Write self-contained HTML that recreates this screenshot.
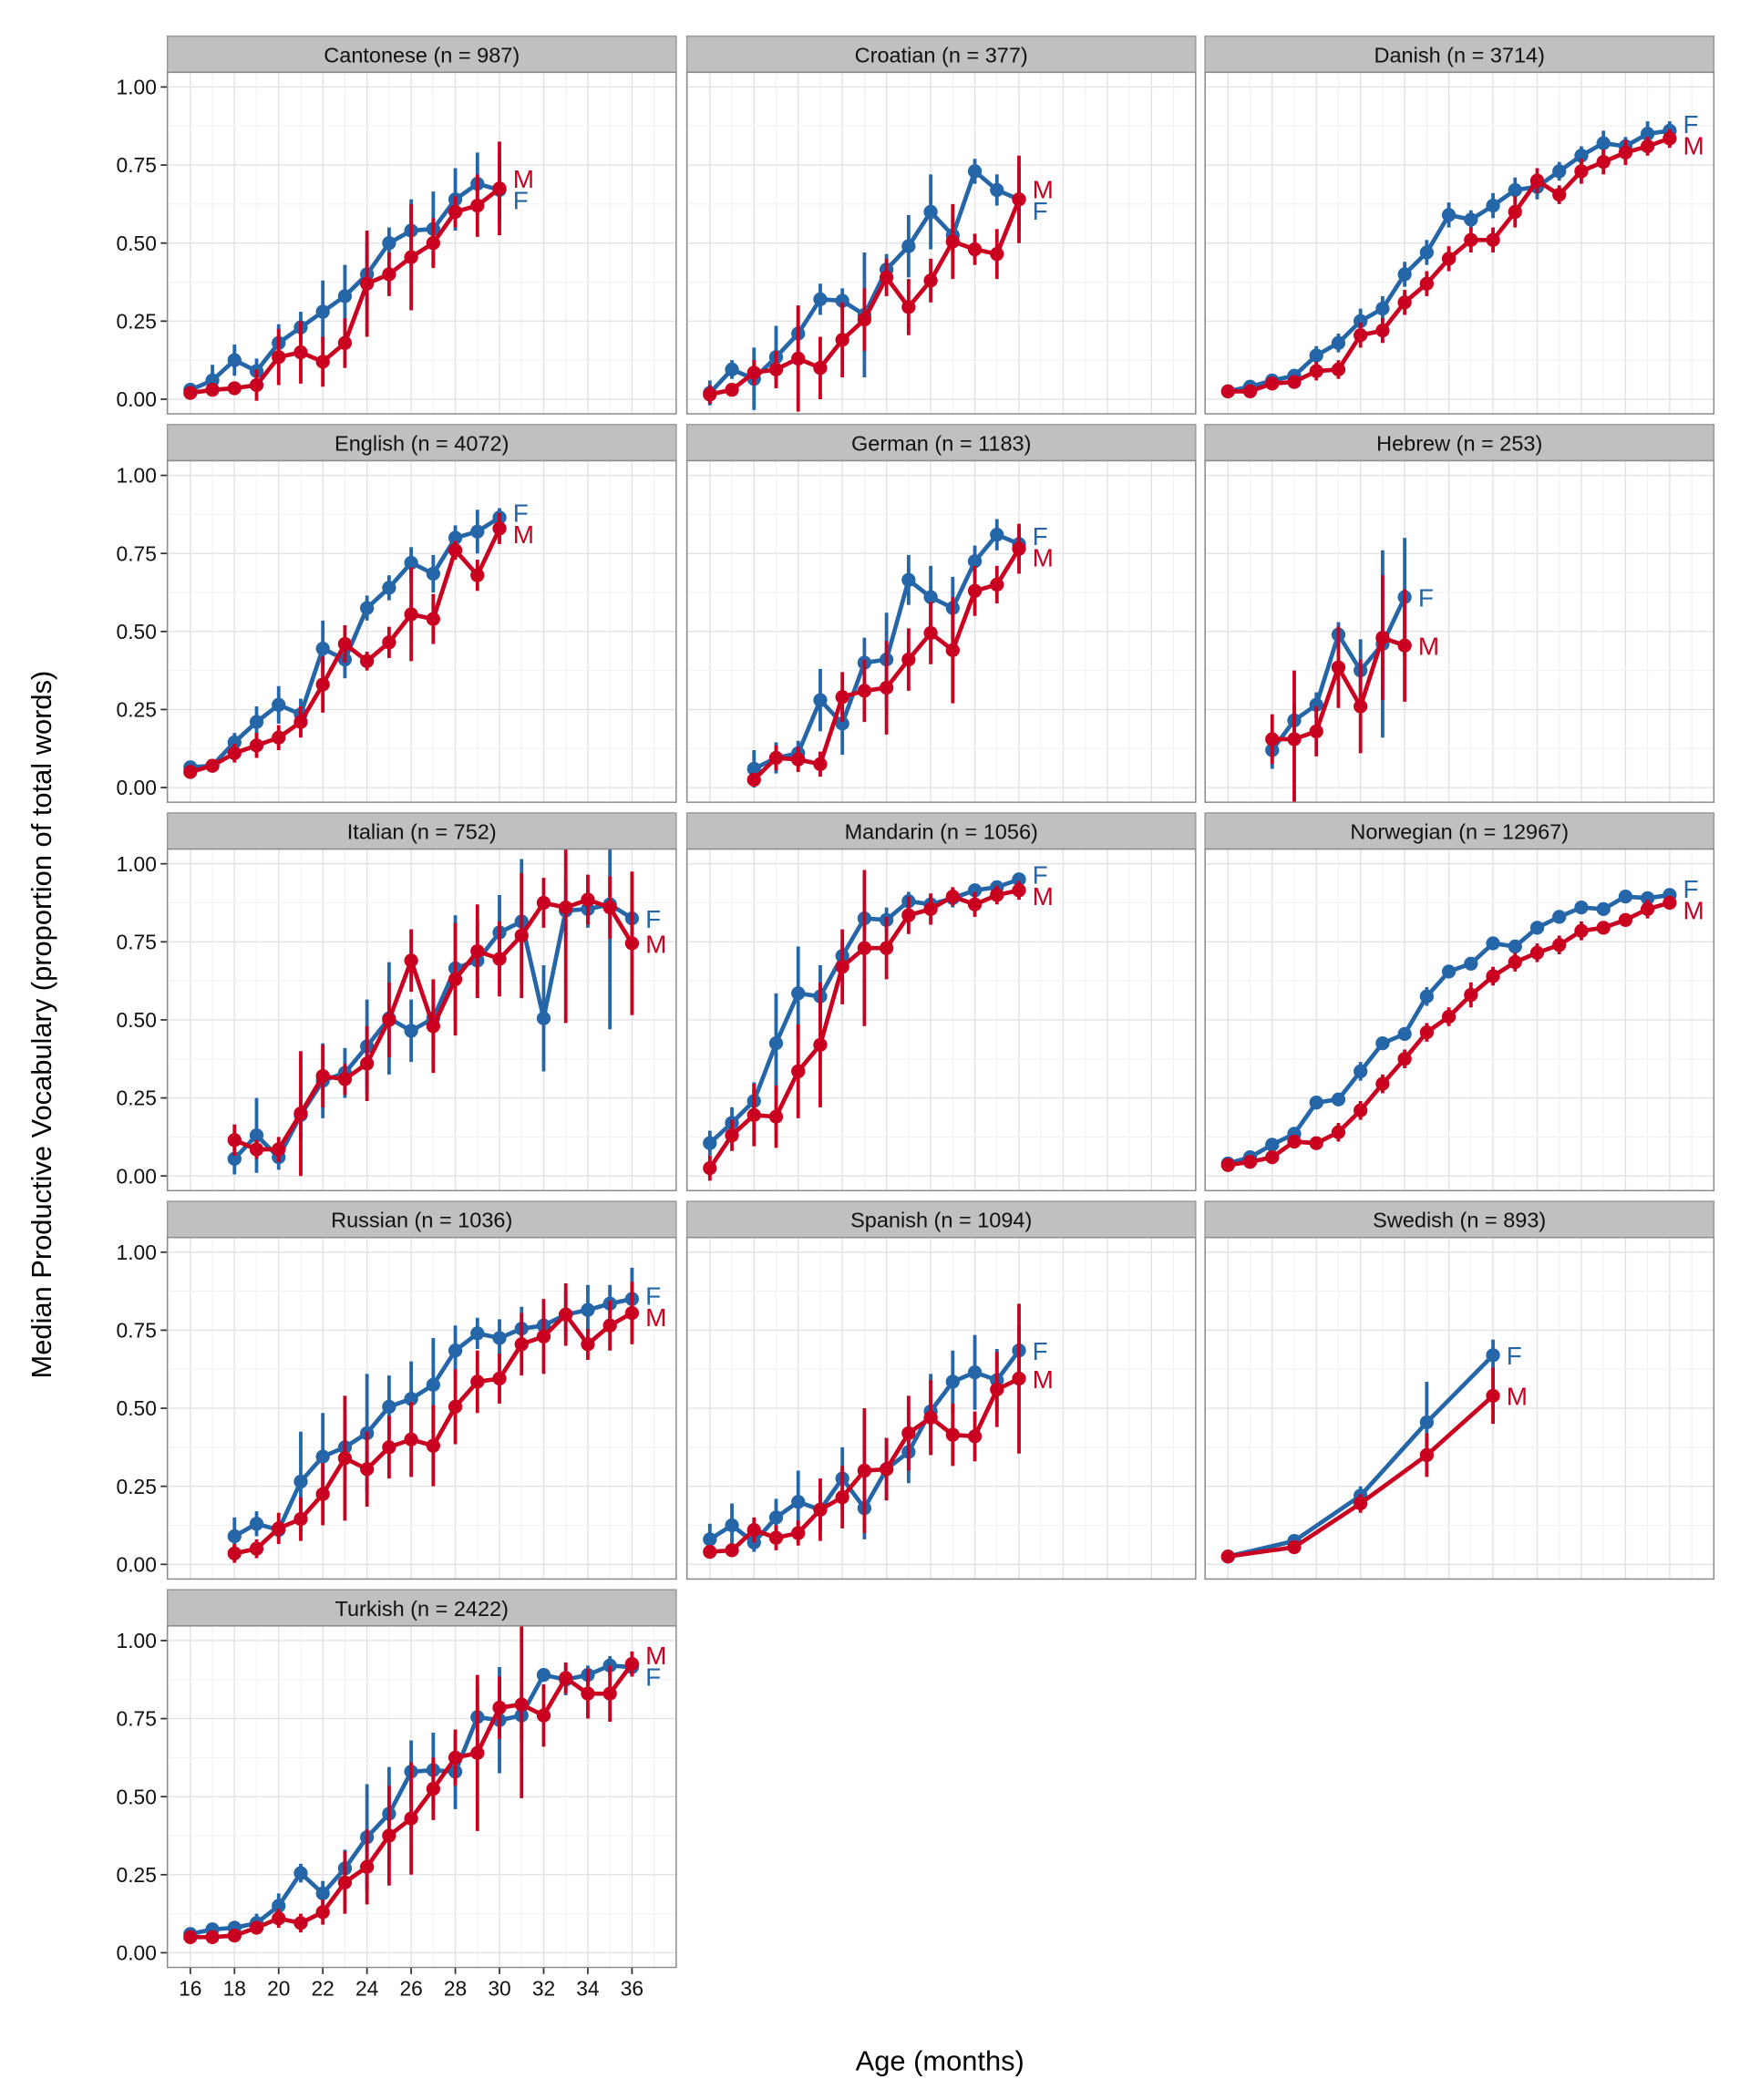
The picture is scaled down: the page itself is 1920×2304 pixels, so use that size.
<!DOCTYPE html>
<html><head><meta charset="utf-8"><style>
html,body{margin:0;padding:0;background:#fff}
svg{display:block}
text{font-family:"Liberation Sans",sans-serif}
</style></head><body>
<svg id="chart" width="1920" height="2304" viewBox="0 0 1307 1568" preserveAspectRatio="none" xmlns="http://www.w3.org/2000/svg">
<text x="38" y="765" font-size="21" text-anchor="middle" fill="#000" transform="rotate(-90 38 765)">Median Productive Vocabulary (proportion of total words)</text>
<text x="702" y="1546" font-size="21" text-anchor="middle" fill="#000">Age (months)</text>
</svg>
<script>
const panelNames = ["Cantonese (n = 987)","Croatian (n = 377)","Danish (n = 3714)","English (n = 4072)","German (n = 1183)","Hebrew (n = 253)","Italian (n = 752)","Mandarin (n = 1056)","Norwegian (n = 12967)","Russian (n = 1036)","Spanish (n = 1094)","Swedish (n = 893)","Turkish (n = 2422)"];
const ages = [
[16,17,18,19,20,21,22,23,24,25,26,27,28,29,30],
[16,17,18,19,20,21,22,23,24,25,26,27,28,29,30],
[16,17,18,19,20,21,22,23,24,25,26,27,28,29,30,31,32,33,34,35,36],
[16,17,18,19,20,21,22,23,24,25,26,27,28,29,30],
[18,19,20,21,22,23,24,25,26,27,28,29,30],
[18,19,20,21,22,23,24],
[18,19,20,21,22,23,24,25,26,27,28,29,30,31,32,33,34,35,36],
[16,17,18,19,20,21,22,23,24,25,26,27,28,29,30],
[16,17,18,19,20,21,22,23,24,25,26,27,28,29,30,31,32,33,34,35,36],
[18,19,20,21,22,23,24,25,26,27,28,29,30,31,32,33,34,35,36],
[16,17,18,19,20,21,22,23,24,25,26,27,28,29,30],
[16,19,22,25,28],
[16,17,18,19,20,21,22,23,24,25,26,27,28,29,30,31,32,33,34,35,36]];
const femaleVals = [
[.03,.06,.125,.09,.18,.23,.28,.33,.40,.50,.54,.545,.64,.69,.67],
[.02,.095,.065,.135,.21,.32,.315,.27,.415,.49,.60,.525,.73,.67,.64],
[.025,.04,.06,.075,.14,.18,.25,.29,.40,.47,.59,.575,.62,.67,.68,.73,.78,.82,.81,.85,.86],
[.065,.07,.145,.21,.265,.235,.445,.41,.575,.64,.72,.685,.80,.82,.865],
[.06,.095,.11,.28,.205,.40,.41,.665,.61,.575,.725,.81,.78],
[.12,.215,.265,.49,.375,.46,.61],
[.055,.13,.06,.195,.305,.33,.415,.505,.465,.505,.665,.69,.78,.815,.505,.85,.855,.87,.825],
[.105,.17,.24,.425,.585,.575,.705,.825,.82,.88,.87,.89,.915,.925,.95],
[.04,.06,.10,.135,.235,.245,.335,.425,.455,.575,.655,.68,.745,.735,.795,.83,.86,.855,.895,.89,.90],
[.09,.13,.11,.265,.345,.375,.42,.505,.53,.575,.685,.74,.725,.755,.765,.80,.815,.835,.85],
[.08,.125,.07,.15,.20,.175,.275,.18,.305,.36,.49,.585,.615,.59,.685],
[.025,.075,.22,.455,.67],
[.06,.075,.08,.095,.15,.255,.19,.27,.37,.445,.58,.585,.58,.755,.745,.76,.89,.875,.89,.92,.915]];
const maleVals = [
[.02,.03,.035,.045,.135,.15,.12,.18,.37,.40,.455,.50,.60,.62,.675],
[.015,.03,.085,.095,.13,.10,.19,.255,.39,.295,.38,.505,.48,.465,.64],
[.025,.025,.05,.055,.09,.095,.205,.22,.31,.37,.45,.51,.51,.60,.70,.655,.73,.76,.79,.81,.835],
[.05,.07,.11,.135,.16,.21,.33,.46,.405,.465,.555,.54,.76,.68,.83],
[.025,.095,.09,.075,.29,.31,.32,.41,.495,.44,.63,.65,.765],
[.155,.155,.18,.385,.26,.48,.455],
[.115,.085,.085,.20,.32,.31,.36,.50,.69,.48,.63,.72,.695,.77,.875,.86,.885,.86,.745],
[.025,.13,.195,.19,.335,.42,.67,.73,.73,.835,.855,.895,.87,.90,.915],
[.035,.045,.06,.11,.105,.14,.21,.295,.375,.46,.51,.58,.64,.685,.715,.74,.785,.795,.82,.855,.875],
[.035,.05,.115,.145,.225,.34,.305,.375,.40,.38,.505,.585,.595,.705,.73,.80,.705,.765,.805],
[.04,.045,.11,.085,.10,.175,.215,.30,.305,.42,.47,.415,.41,.56,.595],
[.025,.055,.195,.35,.54],
[.05,.05,.055,.08,.11,.095,.13,.225,.275,.375,.43,.525,.625,.64,.785,.795,.76,.88,.83,.83,.925]];
const femaleErr = [
[.02,.05,.05,.04,.06,.05,.1,.1,.1,.05,.1,.12,.1,.1,.1],
[.04,.03,.1,.1,.09,.05,.04,.2,.05,.1,.12,.06,.04,.05,.1],
[.01,.01,.02,.02,.03,.03,.04,.04,.04,.04,.04,.03,.04,.04,.04,.03,.03,.04,.03,.04,.03],
[.02,.02,.03,.05,.06,.05,.09,.06,.04,.04,.05,.06,.04,.07,.03],
[.06,.05,.04,.1,.1,.08,.15,.08,.1,.1,.05,.05,.05],
[.06,.05,.04,.04,.1,.3,.19],
[.05,.12,.04,.08,.12,.08,.15,.18,.1,.1,.17,.12,.12,.2,.17,.1,.06,.4,.05],
[.04,.05,.06,.16,.15,.1,.05,.05,.04,.03,.03,.03,.02,.02,.02],
[.01,.01,.02,.02,.02,.02,.03,.02,.02,.03,.02,.02,.02,.02,.02,.02,.02,.02,.02,.02,.02],
[.06,.04,.03,.16,.14,.1,.19,.1,.12,.15,.08,.05,.06,.07,.05,.07,.08,.06,.1],
[.05,.07,.03,.06,.1,.06,.1,.1,.1,.1,.12,.1,.12,.1,.08],
[.01,.02,.03,.13,.05],
[.02,.02,.02,.03,.04,.03,.04,.06,.17,.15,.1,.12,.12,.1,.17,.08,.02,.05,.03,.03,.03]];
const maleErr = [
[.015,.02,.02,.05,.09,.1,.08,.08,.17,.07,.17,.08,.05,.1,.15],
[.03,.02,.04,.06,.17,.1,.12,.1,.06,.09,.07,.12,.05,.08,.14],
[.01,.01,.02,.02,.03,.03,.04,.04,.04,.04,.04,.04,.04,.05,.04,.03,.04,.04,.04,.03,.03],
[.02,.02,.03,.04,.04,.05,.09,.06,.03,.05,.15,.08,.03,.05,.05],
[.02,.04,.04,.04,.08,.1,.15,.1,.1,.17,.08,.06,.08],
[.08,.22,.08,.13,.15,.2,.18],
[.05,.03,.04,.2,.1,.05,.12,.12,.1,.15,.18,.15,.12,.2,.08,.37,.08,.1,.23],
[.04,.05,.1,.1,.15,.2,.12,.25,.1,.06,.05,.03,.04,.03,.03],
[.01,.01,.02,.02,.02,.03,.03,.03,.03,.03,.03,.04,.03,.03,.03,.03,.03,.02,.02,.03,.02],
[.03,.03,.05,.07,.1,.2,.12,.1,.12,.13,.12,.1,.08,.1,.12,.1,.05,.08,.1],
[.02,.02,.04,.04,.04,.1,.1,.2,.1,.12,.12,.1,.08,.12,.24],
[.01,.02,.03,.07,.09],
[.02,.02,.02,.02,.03,.03,.04,.1,.12,.16,.18,.1,.09,.25,.1,.3,.1,.05,.08,.09,.04]];
const yTicks = [0,0.25,0.5,0.75,1];
const yTickLabels = ["0.00","0.25","0.50","0.75","1.00"];
const xTicks = [16,18,20,22,24,26,28,30,32,34,36];

const NS="http://www.w3.org/2000/svg";
const svg=document.getElementById('chart');
const colX=[125,513,900], rowY=[27,317,607,897,1187];
const PW=380, SH=27, PH=255;
const XMIN=14.96, XMAX=38, YMIN=-0.047, YMAX=1.047;
const BLUE="#2566a8", RED="#ca0020";
function mk(tag,attrs,parent){const e=document.createElementNS(NS,tag);for(const k in attrs)e.setAttribute(k,attrs[k]);(parent||svg).appendChild(e);return e;}
function sx(x0,v){return x0+(v-XMIN)/(XMAX-XMIN)*PW;}
function sy(top,v){return top+(YMAX-v)/(YMAX-YMIN)*PH;}
const defs=mk('defs',{});

panelNames.forEach((name,i)=>{
  const c=i%3, r=Math.floor(i/3);
  const x0=colX[c], st=rowY[r], top=st+SH;
  const cp=mk('clipPath',{id:'clip'+i},defs);
  mk('rect',{x:x0,y:top,width:PW,height:PH},cp);
  const g=mk('g',{});
  
  
  const strip=mk('rect',{x:x0,y:st,width:PW,height:SH,fill:"#c0c0c0",stroke:"#999",'stroke-width':1},g);
  
  
  const st_t=mk('text',{x:x0+PW/2,y:st+19.5,'font-size':16,'text-anchor':'middle',fill:'#111'},g);
  st_t.textContent=name;
  
  
  mk('rect',{x:x0,y:top,width:PW,height:PH,fill:"#fff"},g);
  for(let m=15;m<=37;m++){const x=sx(x0,m);mk('line',{x1:x,x2:x,y1:top,y2:top+PH,stroke:m%2?'#f2f2f2':'#e3e3e3','stroke-width':m%2?0.8:1},g);}
  for(let k=-1;k<=8;k++){const v=k*0.125;if(v<YMIN||v>YMAX)continue;const y=sy(top,v);mk('line',{x1:x0,x2:x0+PW,y1:y,y2:y,stroke:k%2?'#f2f2f2':'#e3e3e3','stroke-width':k%2?0.8:1},g);}
  if(c===0){
    yTicks.forEach((v,j)=>{const y=sy(top,v);
      mk('line',{x1:x0-5,x2:x0,y1:y,y2:y,stroke:'#333','stroke-width':1.2},g);
      const t=mk('text',{x:x0-8,y:y+5.5,'font-size':15.5,'text-anchor':'end',fill:'#111'},g);
      t.textContent=yTickLabels[j];
      
      });
  }
  if(i===12){
    xTicks.forEach(v=>{const x=sx(x0,v);
      mk('line',{x1:x,x2:x,y1:top+PH,y2:top+PH+5,stroke:'#333','stroke-width':1.2},g);
      const t=mk('text',{x:x,y:top+PH+21,'font-size':15.5,'text-anchor':'middle',fill:'#111'},g);
      t.textContent=String(v);
      
      });
  }
  const pg=mk('g',{'clip-path':'url(#clip'+i+')'},g);
  const series=[[femaleVals[i],femaleErr[i],BLUE,'F'],[maleVals[i],maleErr[i],RED,'M']];
  series.forEach(([vals,errs,col,lab])=>{
    const a=ages[i];
    vals.forEach((v,j)=>{const x=sx(x0,a[j]);
      const eb=mk('line',{x1:x,x2:x,y1:sy(top,v-errs[j]),y2:sy(top,v+errs[j]),stroke:col,'stroke-width':2.6},pg);
      
      });
    const pts=vals.map((v,j)=>sx(x0,a[j]).toFixed(1)+','+sy(top,v).toFixed(1)).join(' ');
    const pl=mk('polyline',{points:pts,fill:'none',stroke:col,'stroke-width':3.2,'stroke-linejoin':'round'},pg);
    
    
    vals.forEach((v,j)=>{
      const p=mk('circle',{cx:sx(x0,a[j]),cy:sy(top,v),r:5.2,fill:col},pg);
      
      });
  });
  mk('rect',{x:x0,y:top,width:PW,height:PH,fill:"none",stroke:"#8a8a8a",'stroke-width':1},g);
  const fl=femaleVals[i][femaleVals[i].length-1], ml=maleVals[i][maleVals[i].length-1];
  const lastX=sx(x0,ages[i][ages[i].length-1])+10;
  let fy=sy(top,fl), my=sy(top,ml);
  if(Math.abs(fy-my)<16){const mid=(fy+my)/2;if(fy<my){fy=mid-8;my=mid+8;}else{fy=mid+8;my=mid-8;}}
  [[fy,BLUE,'F'],[my,RED,'M']].forEach(([y,col,lab])=>{
    const t=mk('text',{x:lastX,y:y+7,'font-size':19,fill:col},g);
    t.textContent=lab;
    
    });
});
</script>
</body></html>
